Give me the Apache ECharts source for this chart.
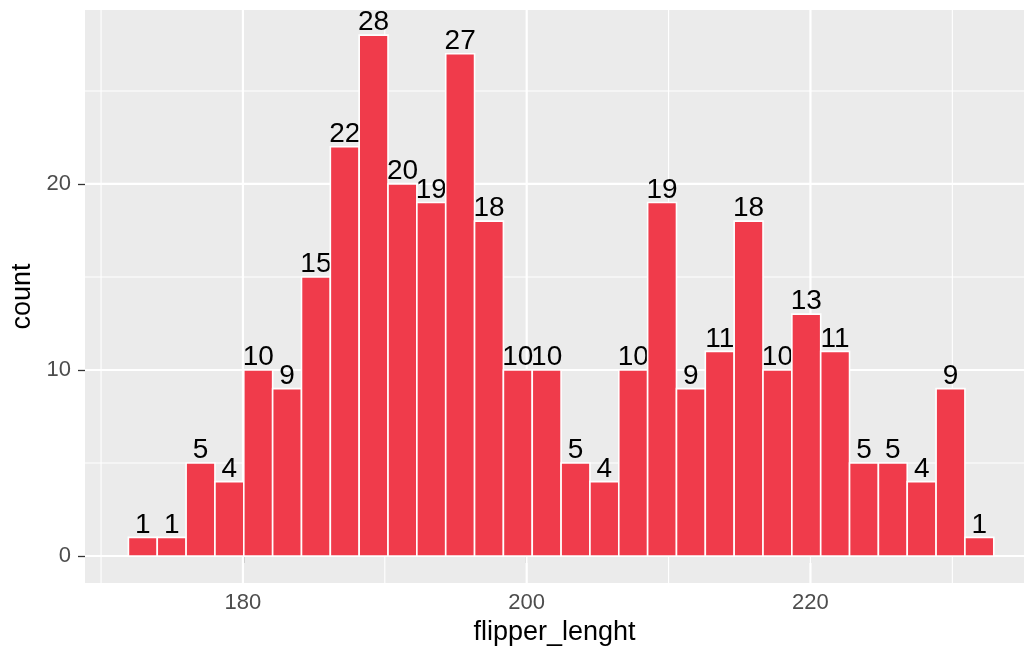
<!DOCTYPE html>
<html>
<head>
<meta charset="utf-8">
<script src="https://cdn.jsdelivr.net/npm/echarts@6/dist/echarts.min.js"></script>
<style>
html,body{margin:0;padding:0;background:#fff;}
#chart{width:1024px;height:653px;}
</style>
</head>
<body>
<div id="chart"></div>
<script>
// histogram bins (flipper length, 30 bins)
const binStart = 171.93;
const binWidth = 2.033;
const counts = [1,1,5,4,10,9,15,22,28,20,19,27,18,10,10,5,4,10,19,9,11,18,10,13,11,5,5,4,9,1];
const xTicks = [180,200,220];
const xMinorGrid = [170,190,210,230];
const yTicks = [0,10,20];
const yMinorGrid = [5,15,25];
const xTitle = 'flipper_lenght';
const yTitle = 'count';

const FONT = "'Liberation Sans', Arial, Helvetica, sans-serif";
const barData = counts.map((c, i) => [binStart + i * binWidth, binStart + (i + 1) * binWidth, c]);

// grid lines: [axis (0 = x, 1 = y), value, major flag]
const gridData = [];
xMinorGrid.forEach(v => gridData.push([0, v, 0]));
yMinorGrid.forEach(v => gridData.push([1, v, 0]));
xTicks.forEach(v => gridData.push([0, v, 1]));
yTicks.forEach(v => gridData.push([1, v, 1]));

const chart = echarts.init(document.getElementById('chart'), null, {renderer: 'canvas'});
chart.setOption({
  animation: false,
  backgroundColor: '#ffffff',
  grid: {left: 85, right: 0, top: 10, bottom: 70, show: true, backgroundColor: '#EBEBEB', borderWidth: 0},
  xAxis: {
    type: 'value', min: 168.87, max: 235.05,
    name: xTitle, nameLocation: 'middle', nameGap: 31,
    nameTextStyle: {fontFamily: FONT, fontSize: 27, color: '#000'},
    axisLine: {show: false},
    splitLine: {show: false},
    axisTick: {show: true, customValues: xTicks, length: 7, lineStyle: {color: '#333333', width: 1.3}},
    axisLabel: {customValues: xTicks, margin: 9, fontFamily: FONT, fontSize: 22, color: '#4D4D4D'}
  },
  yAxis: {
    type: 'value', min: -1.45, max: 29.35,
    name: yTitle, nameLocation: 'middle', nameGap: 47, nameRotate: 90,
    nameTextStyle: {fontFamily: FONT, fontSize: 27, color: '#000'},
    axisLine: {show: false},
    splitLine: {show: false},
    axisTick: {show: true, customValues: yTicks, length: 7, lineStyle: {color: '#333333', width: 1.3}},
    axisLabel: {customValues: yTicks, margin: 14, fontFamily: FONT, fontSize: 22, color: '#4D4D4D'}
  },
  series: [
    {
      type: 'custom', z: 1, silent: true, data: gridData,
      encode: {x: -1, y: -1},
      renderItem: function (params, api) {
        const cs = params.coordSys;
        const axis = api.value(0), v = api.value(1), major = api.value(2);
        let shape;
        if (axis === 0) {
          const px = api.coord([v, 0])[0];
          shape = {x1: px, y1: cs.y, x2: px, y2: cs.y + cs.height};
        } else {
          const py = api.coord([binStart, v])[1];
          shape = {x1: cs.x, y1: py, x2: cs.x + cs.width, y2: py};
        }
        return {type: 'line', shape: shape, style: {stroke: '#FFFFFF', lineWidth: major ? 2.2 : 1.1}};
      }
    },
    {
      type: 'custom', z: 2, data: barData,
      renderItem: function (params, api) {
        const x0 = api.value(0), x1 = api.value(1), c = api.value(2);
        const p0 = api.coord([x0, c]);
        const p1 = api.coord([x1, 0]);
        return {
          type: 'group',
          children: [
            {type: 'rect', shape: {x: p0[0], y: p0[1], width: p1[0] - p0[0], height: p1[1] - p0[1]},
             style: {fill: '#F03B4B', stroke: '#FFFFFF', lineWidth: 1.6}},
            {type: 'text', style: {text: String(c), x: (p0[0] + p1[0]) / 2, y: p0[1] + 1.5,
             align: 'center', verticalAlign: 'bottom', fontFamily: FONT, fontSize: 28, fill: '#000'}}
          ]
        };
      }
    }
  ]
});
</script>
</body>
</html>
